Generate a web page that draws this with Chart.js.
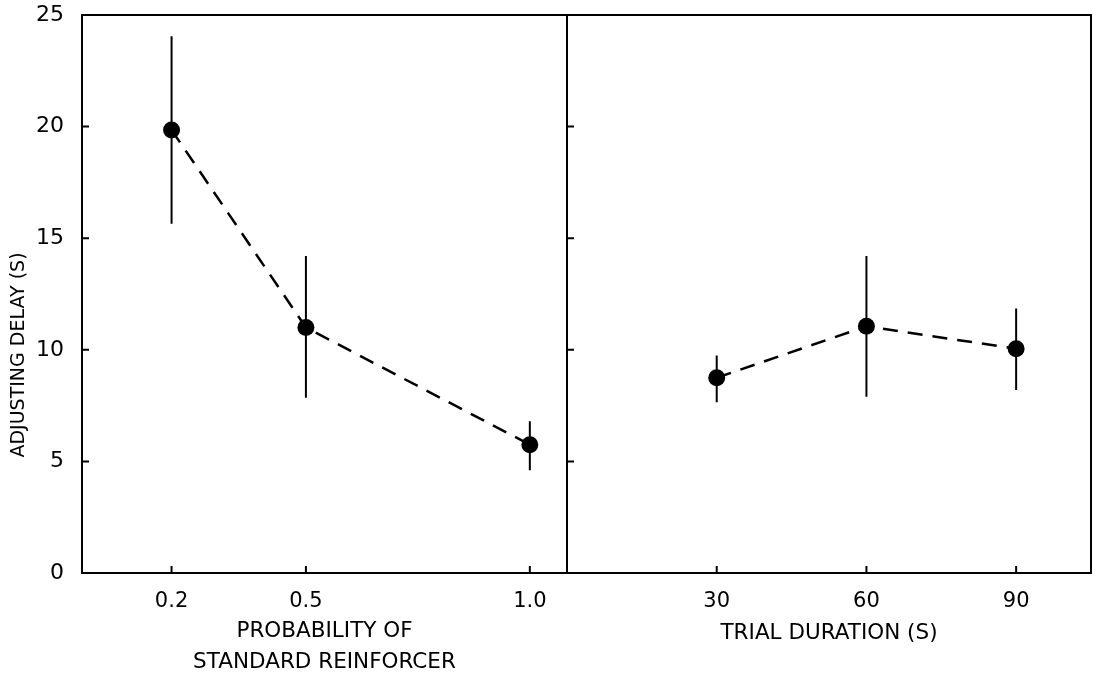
<!DOCTYPE html>
<html>
<head>
<meta charset="utf-8">
<script src="https://cdn.jsdelivr.net/npm/chart.js@4/dist/chart.umd.min.js"></script>
<style>
    body { margin: 0; background: #fff; overflow: hidden; }
    #wrap { position: relative; width: 1095px; height: 675px; }
    #boxLeft { position: absolute; left: 0; top: 0; width: 575px; height: 675px; }
    #boxRight { position: absolute; left: 560px; top: 0; width: 535px; height: 675px; }
</style>
</head>
<body>
<div id="wrap">
    <div id="boxLeft"><canvas id="chartLeft"></canvas></div>
    <div id="boxRight"><canvas id="chartRight"></canvas></div>
</div>
<script>
// left panel: probability of standard reinforcer
const probValues = [0.2, 0.5, 1.0];
const probMeans = [19.85, 11.0, 5.75];
const probLow = [15.65, 7.85, 4.6];
const probHigh = [24.05, 14.2, 6.8];

// right panel: trial duration (s)
const durValues = [30, 60, 90];
const durMeans = [8.75, 11.05, 10.05];
const durLow = [7.65, 7.9, 8.2];
const durHigh = [9.75, 14.2, 11.85];

const yTicks = [0, 5, 10, 15, 20, 25];
const yTitle = 'ADJUSTING DELAY (S)';

const FONT = "'DejaVu Sans', sans-serif";

// error bars, inward tick marks, the frame and the y title
function panelPlugin(xTicks, lows, highs, isLeft) {
    return {
        id: 'panel',
        beforeDatasetsDraw(chart) {
            const ctx = chart.ctx;
            const xs = chart.scales.x, ys = chart.scales.y;
            ctx.save();
            ctx.strokeStyle = '#000';
            ctx.lineWidth = 2;
            ctx.beginPath();
            chart.data.datasets[0].data.forEach((p, i) => {
                const px = xs.getPixelForValue(p.x);
                ctx.moveTo(px, ys.getPixelForValue(lows[i]));
                ctx.lineTo(px, ys.getPixelForValue(highs[i]));
            });
            ctx.stroke();
            ctx.restore();
        },
        afterDraw(chart) {
            const ctx = chart.ctx;
            const a = chart.chartArea;
            const xs = chart.scales.x, ys = chart.scales.y;
            ctx.save();
            ctx.strokeStyle = '#000';
            ctx.lineWidth = 2;
            ctx.strokeRect(a.left, a.top, a.right - a.left, a.bottom - a.top);
            ctx.beginPath();
            xTicks.forEach(v => {
                const px = xs.getPixelForValue(v);
                ctx.moveTo(px, a.bottom);
                ctx.lineTo(px, a.bottom - 7);
            });
            yTicks.slice(1, -1).forEach(v => {
                const py = ys.getPixelForValue(v);
                ctx.moveTo(a.left, py);
                ctx.lineTo(a.left + 7, py);
            });
            ctx.stroke();
            if (isLeft) {
                // title sits lower than the middle of the axis in the original
                ctx.translate(19, 355);
                ctx.rotate(-Math.PI / 2);
                ctx.fillStyle = '#000';
                ctx.font = '19px ' + FONT;
                ctx.textAlign = 'center';
                ctx.textBaseline = 'middle';
                ctx.fillText(yTitle, 0, 0);
            }
            ctx.restore();
        }
    };
}

function makeChart(id, xVals, means, lows, highs, xMax, xTitle, titlePad, isLeft, pad) {
    const points = xVals.map((v, i) => ({ x: v, y: means[i] }));
    return new Chart(document.getElementById(id), {
        type: 'line',
        data: {
            datasets: [{
                data: points,
                borderColor: '#000',
                borderWidth: 2.5,
                borderDash: [15, 10],
                pointRadius: 8.5,
                pointBackgroundColor: '#000',
                pointBorderWidth: 0,
                tension: 0
            }]
        },
        options: {
            responsive: true,
            maintainAspectRatio: false,
            animation: false,
            layout: { padding: pad, autoPadding: false },
            plugins: {
                legend: { display: false },
                tooltip: { enabled: false }
            },
            scales: {
                x: {
                    type: 'linear',
                    min: 0,
                    max: xMax,
                    afterBuildTicks: s => { s.ticks = xVals.map(v => ({ value: v })); },
                    afterFit: s => {
                        s.height = 102;
                        s.paddingLeft = 0;
                        s.paddingRight = 0;
                    },
                    grid: { display: false, drawTicks: false },
                    border: { display: false },
                    ticks: {
                        padding: 16,
                        color: '#000',
                        font: { family: FONT, size: 21 },
                        callback: v => isLeft ? v.toFixed(1) : String(v)
                    },
                    title: {
                        display: true,
                        text: xTitle,
                        color: '#000',
                        font: { family: FONT, size: 21.5, lineHeight: 1.4 },
                        padding: { top: 0, bottom: titlePad }
                    }
                },
                y: {
                    min: 0,
                    max: 25,
                    afterBuildTicks: s => { s.ticks = yTicks.map(v => ({ value: v })); },
                    afterFit: s => {
                        s.width = isLeft ? 82 : 7;
                        s.paddingTop = 0;
                        s.paddingBottom = 0;
                    },
                    grid: { display: false, drawTicks: false },
                    border: { display: false },
                    ticks: {
                        display: isLeft,
                        padding: 18,
                        color: '#000',
                        font: { family: FONT, size: 22 }
                    }
                }
            }
        },
        plugins: [panelPlugin(xVals, lows, highs, isLeft)]
    });
}

makeChart('chartLeft', probValues, probMeans, probLow, probHigh, 1.083,
    ['PROBABILITY OF', 'STANDARD REINFORCER'], -2, true,
    { top: 15, right: 8, bottom: 0, left: 0 });

makeChart('chartRight', durValues, durMeans, durLow, durHigh, 105,
    'TRIAL DURATION (S)', 27, false,
    { top: 15, right: 4, bottom: 0, left: 0 });
</script>
</body>
</html>
